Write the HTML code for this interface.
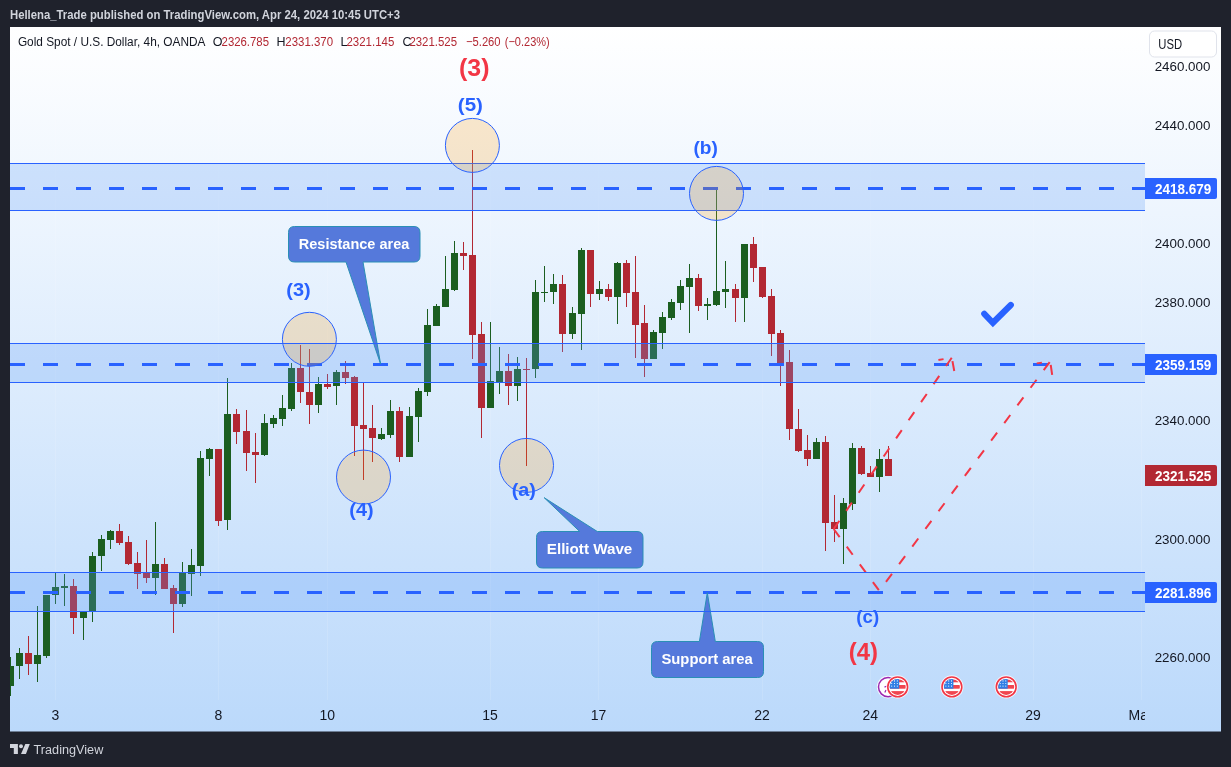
<!DOCTYPE html><html><head><meta charset="utf-8"><style>html,body{margin:0;padding:0;background:#1f222c;overflow:hidden}svg{display:block;will-change:transform}text{font-family:"Liberation Sans",sans-serif}</style></head><body>
<svg width="1231" height="767" viewBox="0 0 1231 767">
<defs><linearGradient id="bg" x1="0" y1="0" x2="0" y2="1"><stop offset="0" stop-color="#ffffff"/><stop offset="1" stop-color="#bbd9fb"/></linearGradient>
<clipPath id="pane"><rect x="10" y="27" width="1135" height="673"/></clipPath>
<clipPath id="panel"><rect x="10" y="27" width="1211" height="704"/></clipPath>
</defs>
<rect x="0" y="0" width="1231" height="767" fill="#1f222c"/>
<text x="10" y="19" font-size="12" fill="#d1d4dc" font-weight="bold" text-anchor="start" textLength="390" lengthAdjust="spacingAndGlyphs" >Hellena_Trade published on TradingView.com, Apr 24, 2024 10:45 UTC+3</text>
<rect x="10" y="27" width="1211" height="704.5" fill="url(#bg)"/>
<g clip-path="url(#pane)">
<rect x="55" y="27" width="1" height="673" fill="#ffffff" opacity="0.12"/>
<rect x="218" y="27" width="1" height="673" fill="#ffffff" opacity="0.12"/>
<rect x="327" y="27" width="1" height="673" fill="#ffffff" opacity="0.12"/>
<rect x="490" y="27" width="1" height="673" fill="#ffffff" opacity="0.12"/>
<rect x="598" y="27" width="1" height="673" fill="#ffffff" opacity="0.12"/>
<rect x="762" y="27" width="1" height="673" fill="#ffffff" opacity="0.12"/>
<rect x="870" y="27" width="1" height="673" fill="#ffffff" opacity="0.12"/>
<rect x="1033" y="27" width="1" height="673" fill="#ffffff" opacity="0.12"/>
<rect x="1141" y="27" width="1" height="673" fill="#ffffff" opacity="0.12"/>
<rect x="10" y="657" width="1" height="39" fill="#1b5e20"/>
<rect x="7" y="666" width="7" height="20" fill="#1b5e20"/>
<rect x="19" y="648" width="1" height="31" fill="#1b5e20"/>
<rect x="16" y="653" width="7" height="13" fill="#1b5e20"/>
<rect x="28" y="636" width="1" height="39" fill="#b22833"/>
<rect x="25" y="653" width="7" height="11" fill="#b22833"/>
<rect x="37" y="606" width="1" height="76" fill="#1b5e20"/>
<rect x="34" y="655" width="7" height="9" fill="#1b5e20"/>
<rect x="46" y="595" width="1" height="63" fill="#1b5e20"/>
<rect x="43" y="595" width="7" height="61" fill="#1b5e20"/>
<rect x="55" y="573" width="1" height="31" fill="#1b5e20"/>
<rect x="52" y="587" width="7" height="8" fill="#1b5e20"/>
<rect x="64" y="574" width="1" height="32" fill="#1b5e20"/>
<rect x="61" y="586" width="7" height="2" fill="#1b5e20"/>
<rect x="73" y="579" width="1" height="55" fill="#b22833"/>
<rect x="70" y="586" width="7" height="32" fill="#b22833"/>
<rect x="83" y="612" width="1" height="28" fill="#1b5e20"/>
<rect x="80" y="612" width="7" height="6" fill="#1b5e20"/>
<rect x="92" y="552" width="1" height="70" fill="#1b5e20"/>
<rect x="89" y="556" width="7" height="56" fill="#1b5e20"/>
<rect x="101" y="535" width="1" height="36" fill="#1b5e20"/>
<rect x="98" y="539" width="7" height="17" fill="#1b5e20"/>
<rect x="110" y="530" width="1" height="19" fill="#1b5e20"/>
<rect x="107" y="531" width="7" height="9" fill="#1b5e20"/>
<rect x="119" y="524" width="1" height="21" fill="#b22833"/>
<rect x="116" y="531" width="7" height="12" fill="#b22833"/>
<rect x="128" y="536" width="1" height="29" fill="#b22833"/>
<rect x="125" y="542" width="7" height="22" fill="#b22833"/>
<rect x="137" y="552" width="1" height="37" fill="#b22833"/>
<rect x="134" y="563" width="7" height="11" fill="#b22833"/>
<rect x="146" y="540" width="1" height="43" fill="#b22833"/>
<rect x="143" y="573" width="7" height="5" fill="#b22833"/>
<rect x="155" y="522" width="1" height="73" fill="#1b5e20"/>
<rect x="152" y="564" width="7" height="14" fill="#1b5e20"/>
<rect x="164" y="558" width="1" height="31" fill="#b22833"/>
<rect x="161" y="564" width="7" height="25" fill="#b22833"/>
<rect x="173" y="585" width="1" height="48" fill="#b22833"/>
<rect x="170" y="588" width="7" height="16" fill="#b22833"/>
<rect x="182" y="562" width="1" height="45" fill="#1b5e20"/>
<rect x="179" y="573" width="7" height="31" fill="#1b5e20"/>
<rect x="191" y="549" width="1" height="47" fill="#1b5e20"/>
<rect x="188" y="565" width="7" height="9" fill="#1b5e20"/>
<rect x="200" y="451" width="1" height="125" fill="#1b5e20"/>
<rect x="197" y="458" width="7" height="108" fill="#1b5e20"/>
<rect x="209" y="448" width="1" height="28" fill="#1b5e20"/>
<rect x="206" y="449" width="7" height="10" fill="#1b5e20"/>
<rect x="218" y="449" width="1" height="77" fill="#b22833"/>
<rect x="215" y="449" width="7" height="72" fill="#b22833"/>
<rect x="227" y="378" width="1" height="152" fill="#1b5e20"/>
<rect x="224" y="414" width="7" height="106" fill="#1b5e20"/>
<rect x="236" y="409" width="1" height="35" fill="#b22833"/>
<rect x="233" y="414" width="7" height="18" fill="#b22833"/>
<rect x="246" y="410" width="1" height="61" fill="#b22833"/>
<rect x="243" y="431" width="7" height="22" fill="#b22833"/>
<rect x="255" y="433" width="1" height="50" fill="#b22833"/>
<rect x="252" y="452" width="7" height="3" fill="#b22833"/>
<rect x="264" y="414" width="1" height="42" fill="#1b5e20"/>
<rect x="261" y="423" width="7" height="32" fill="#1b5e20"/>
<rect x="273" y="415" width="1" height="13" fill="#1b5e20"/>
<rect x="270" y="418" width="7" height="6" fill="#1b5e20"/>
<rect x="282" y="395" width="1" height="31" fill="#1b5e20"/>
<rect x="279" y="408" width="7" height="11" fill="#1b5e20"/>
<rect x="291" y="363" width="1" height="48" fill="#1b5e20"/>
<rect x="288" y="368" width="7" height="41" fill="#1b5e20"/>
<rect x="300" y="345" width="1" height="58" fill="#b22833"/>
<rect x="297" y="368" width="7" height="24" fill="#b22833"/>
<rect x="309" y="349" width="1" height="75" fill="#b22833"/>
<rect x="306" y="392" width="7" height="13" fill="#b22833"/>
<rect x="318" y="377" width="1" height="36" fill="#1b5e20"/>
<rect x="315" y="384" width="7" height="21" fill="#1b5e20"/>
<rect x="327" y="374" width="1" height="15" fill="#b22833"/>
<rect x="324" y="384" width="7" height="3" fill="#b22833"/>
<rect x="336" y="370" width="1" height="35" fill="#1b5e20"/>
<rect x="333" y="372" width="7" height="14" fill="#1b5e20"/>
<rect x="345" y="361" width="1" height="23" fill="#b22833"/>
<rect x="342" y="372" width="7" height="6" fill="#b22833"/>
<rect x="354" y="376" width="1" height="80" fill="#b22833"/>
<rect x="351" y="377" width="7" height="49" fill="#b22833"/>
<rect x="363" y="382" width="1" height="98" fill="#b22833"/>
<rect x="360" y="425" width="7" height="4" fill="#b22833"/>
<rect x="372" y="405" width="1" height="57" fill="#b22833"/>
<rect x="369" y="428" width="7" height="10" fill="#b22833"/>
<rect x="381" y="428" width="1" height="12" fill="#1b5e20"/>
<rect x="378" y="434" width="7" height="5" fill="#1b5e20"/>
<rect x="390" y="400" width="1" height="38" fill="#1b5e20"/>
<rect x="387" y="411" width="7" height="24" fill="#1b5e20"/>
<rect x="399" y="407" width="1" height="55" fill="#b22833"/>
<rect x="396" y="411" width="7" height="46" fill="#b22833"/>
<rect x="409" y="407" width="1" height="50" fill="#1b5e20"/>
<rect x="406" y="416" width="7" height="41" fill="#1b5e20"/>
<rect x="418" y="388" width="1" height="54" fill="#1b5e20"/>
<rect x="415" y="391" width="7" height="26" fill="#1b5e20"/>
<rect x="427" y="309" width="1" height="87" fill="#1b5e20"/>
<rect x="424" y="325" width="7" height="67" fill="#1b5e20"/>
<rect x="436" y="304" width="1" height="22" fill="#1b5e20"/>
<rect x="433" y="306" width="7" height="20" fill="#1b5e20"/>
<rect x="445" y="256" width="1" height="51" fill="#1b5e20"/>
<rect x="442" y="289" width="7" height="18" fill="#1b5e20"/>
<rect x="454" y="241" width="1" height="50" fill="#1b5e20"/>
<rect x="451" y="253" width="7" height="37" fill="#1b5e20"/>
<rect x="463" y="242" width="1" height="28" fill="#b22833"/>
<rect x="460" y="253" width="7" height="3" fill="#b22833"/>
<rect x="472" y="150" width="1" height="209" fill="#b22833"/>
<rect x="469" y="255" width="7" height="80" fill="#b22833"/>
<rect x="481" y="322" width="1" height="116" fill="#b22833"/>
<rect x="478" y="334" width="7" height="74" fill="#b22833"/>
<rect x="490" y="322" width="1" height="86" fill="#1b5e20"/>
<rect x="487" y="381" width="7" height="27" fill="#1b5e20"/>
<rect x="499" y="347" width="1" height="47" fill="#1b5e20"/>
<rect x="496" y="371" width="7" height="11" fill="#1b5e20"/>
<rect x="508" y="354" width="1" height="51" fill="#b22833"/>
<rect x="505" y="371" width="7" height="15" fill="#b22833"/>
<rect x="517" y="357" width="1" height="44" fill="#1b5e20"/>
<rect x="514" y="369" width="7" height="17" fill="#1b5e20"/>
<rect x="526" y="358" width="1" height="108" fill="#b22833"/>
<rect x="523" y="369" width="7" height="1" fill="#b22833"/>
<rect x="535" y="280" width="1" height="98" fill="#1b5e20"/>
<rect x="532" y="292" width="7" height="77" fill="#1b5e20"/>
<rect x="544" y="266" width="1" height="36" fill="#1b5e20"/>
<rect x="541" y="292" width="7" height="1" fill="#1b5e20"/>
<rect x="553" y="274" width="1" height="30" fill="#1b5e20"/>
<rect x="550" y="284" width="7" height="8" fill="#1b5e20"/>
<rect x="562" y="275" width="1" height="77" fill="#b22833"/>
<rect x="559" y="284" width="7" height="50" fill="#b22833"/>
<rect x="572" y="307" width="1" height="32" fill="#1b5e20"/>
<rect x="569" y="313" width="7" height="21" fill="#1b5e20"/>
<rect x="581" y="248" width="1" height="102" fill="#1b5e20"/>
<rect x="578" y="250" width="7" height="64" fill="#1b5e20"/>
<rect x="590" y="250" width="1" height="57" fill="#b22833"/>
<rect x="587" y="250" width="7" height="44" fill="#b22833"/>
<rect x="599" y="281" width="1" height="19" fill="#1b5e20"/>
<rect x="596" y="289" width="7" height="5" fill="#1b5e20"/>
<rect x="608" y="284" width="1" height="17" fill="#b22833"/>
<rect x="605" y="289" width="7" height="8" fill="#b22833"/>
<rect x="617" y="262" width="1" height="62" fill="#1b5e20"/>
<rect x="614" y="263" width="7" height="34" fill="#1b5e20"/>
<rect x="626" y="260" width="1" height="47" fill="#b22833"/>
<rect x="623" y="263" width="7" height="30" fill="#b22833"/>
<rect x="635" y="256" width="1" height="102" fill="#b22833"/>
<rect x="632" y="292" width="7" height="33" fill="#b22833"/>
<rect x="644" y="305" width="1" height="72" fill="#b22833"/>
<rect x="641" y="323" width="7" height="36" fill="#b22833"/>
<rect x="653" y="330" width="1" height="29" fill="#1b5e20"/>
<rect x="650" y="332" width="7" height="27" fill="#1b5e20"/>
<rect x="662" y="312" width="1" height="37" fill="#1b5e20"/>
<rect x="659" y="317" width="7" height="16" fill="#1b5e20"/>
<rect x="671" y="299" width="1" height="21" fill="#1b5e20"/>
<rect x="668" y="302" width="7" height="16" fill="#1b5e20"/>
<rect x="680" y="280" width="1" height="30" fill="#1b5e20"/>
<rect x="677" y="286" width="7" height="17" fill="#1b5e20"/>
<rect x="689" y="264" width="1" height="69" fill="#1b5e20"/>
<rect x="686" y="278" width="7" height="9" fill="#1b5e20"/>
<rect x="698" y="274" width="1" height="37" fill="#b22833"/>
<rect x="695" y="278" width="7" height="28" fill="#b22833"/>
<rect x="707" y="298" width="1" height="22" fill="#1b5e20"/>
<rect x="704" y="304" width="7" height="2" fill="#1b5e20"/>
<rect x="716" y="188" width="1" height="118" fill="#1b5e20"/>
<rect x="713" y="291" width="7" height="14" fill="#1b5e20"/>
<rect x="725" y="261" width="1" height="47" fill="#1b5e20"/>
<rect x="722" y="289" width="7" height="3" fill="#1b5e20"/>
<rect x="735" y="284" width="1" height="38" fill="#b22833"/>
<rect x="732" y="289" width="7" height="9" fill="#b22833"/>
<rect x="744" y="244" width="1" height="78" fill="#1b5e20"/>
<rect x="741" y="244" width="7" height="54" fill="#1b5e20"/>
<rect x="753" y="237" width="1" height="45" fill="#b22833"/>
<rect x="750" y="244" width="7" height="24" fill="#b22833"/>
<rect x="762" y="267" width="1" height="31" fill="#b22833"/>
<rect x="759" y="267" width="7" height="30" fill="#b22833"/>
<rect x="771" y="289" width="1" height="67" fill="#b22833"/>
<rect x="768" y="296" width="7" height="38" fill="#b22833"/>
<rect x="780" y="330" width="1" height="56" fill="#b22833"/>
<rect x="777" y="333" width="7" height="30" fill="#b22833"/>
<rect x="789" y="350" width="1" height="90" fill="#b22833"/>
<rect x="786" y="362" width="7" height="67" fill="#b22833"/>
<rect x="798" y="409" width="1" height="43" fill="#b22833"/>
<rect x="795" y="429" width="7" height="22" fill="#b22833"/>
<rect x="807" y="435" width="1" height="31" fill="#b22833"/>
<rect x="804" y="450" width="7" height="9" fill="#b22833"/>
<rect x="816" y="438" width="1" height="21" fill="#1b5e20"/>
<rect x="813" y="442" width="7" height="17" fill="#1b5e20"/>
<rect x="825" y="436" width="1" height="115" fill="#b22833"/>
<rect x="822" y="442" width="7" height="81" fill="#b22833"/>
<rect x="834" y="495" width="1" height="47" fill="#b22833"/>
<rect x="831" y="522" width="7" height="7" fill="#b22833"/>
<rect x="843" y="498" width="1" height="66" fill="#1b5e20"/>
<rect x="840" y="503" width="7" height="26" fill="#1b5e20"/>
<rect x="852" y="443" width="1" height="67" fill="#1b5e20"/>
<rect x="849" y="448" width="7" height="56" fill="#1b5e20"/>
<rect x="861" y="446" width="1" height="29" fill="#b22833"/>
<rect x="858" y="448" width="7" height="26" fill="#b22833"/>
<rect x="870" y="466" width="1" height="11" fill="#b22833"/>
<rect x="867" y="473" width="7" height="4" fill="#b22833"/>
<rect x="879" y="449" width="1" height="43" fill="#1b5e20"/>
<rect x="876" y="459" width="7" height="18" fill="#1b5e20"/>
<rect x="888" y="446" width="1" height="30" fill="#b22833"/>
<rect x="885" y="459" width="7" height="17" fill="#b22833"/>
<rect x="10" y="163.5" width="1135" height="47.0" fill="rgba(91,156,246,0.25)"/>
<line x1="10" y1="163.5" x2="1145" y2="163.5" stroke="#2962ff" stroke-width="1"/><line x1="10" y1="210.5" x2="1145" y2="210.5" stroke="#2962ff" stroke-width="1"/>
<rect x="10" y="343.5" width="1135" height="39.0" fill="rgba(91,156,246,0.25)"/>
<line x1="10" y1="343.5" x2="1145" y2="343.5" stroke="#2962ff" stroke-width="1"/><line x1="10" y1="382.5" x2="1145" y2="382.5" stroke="#2962ff" stroke-width="1"/>
<rect x="10" y="572.5" width="1135" height="39.0" fill="rgba(91,156,246,0.25)"/>
<line x1="10" y1="572.5" x2="1145" y2="572.5" stroke="#2962ff" stroke-width="1"/><line x1="10" y1="611.5" x2="1145" y2="611.5" stroke="#2962ff" stroke-width="1"/>
<line x1="10" y1="188.5" x2="1145" y2="188.5" stroke="#2962ff" stroke-width="3" stroke-dasharray="15 18"/>
<line x1="10" y1="364.5" x2="1145" y2="364.5" stroke="#2962ff" stroke-width="3" stroke-dasharray="15 18"/>
<line x1="10" y1="592.5" x2="1145" y2="592.5" stroke="#2962ff" stroke-width="3" stroke-dasharray="15 18"/>
<circle cx="309.4" cy="339.3" r="27" fill="rgba(255,152,0,0.2)" stroke="#2962ff" stroke-width="1"/>
<circle cx="472.4" cy="145.4" r="27" fill="rgba(255,152,0,0.2)" stroke="#2962ff" stroke-width="1"/>
<circle cx="716.5" cy="193.4" r="27" fill="rgba(255,152,0,0.2)" stroke="#2962ff" stroke-width="1"/>
<circle cx="363.5" cy="477.1" r="27" fill="rgba(255,152,0,0.2)" stroke="#2962ff" stroke-width="1"/>
<circle cx="526.5" cy="465.4" r="27" fill="rgba(255,152,0,0.2)" stroke="#2962ff" stroke-width="1"/>
<line x1="833.7" y1="529" x2="951.8" y2="357.6" stroke="#f23645" stroke-width="2" stroke-dasharray="10 12"/>
<polyline points="954.26,370.98 951.8,357.6 938.42,360.06" fill="none" stroke="#f23645" stroke-width="2" stroke-dasharray="10 12"/>
<polyline points="833.7,529 879.3,590.8 1050.2,361.4" fill="none" stroke="#f23645" stroke-width="2" stroke-dasharray="10 12"/>
<polyline points="1052.17,374.86 1050.2,361.4 1036.74,363.37" fill="none" stroke="#f23645" stroke-width="2" stroke-dasharray="10 12"/>
<path d="M294.5,226.5 H414.0 Q420.0,226.5 420.0,232.5 V256.0 Q420.0,262.0 414.0,262.0 H363 L380.6,364 L346,262.0 H294.5 Q288.5,262.0 288.5,256.0 V232.5 Q288.5,226.5 294.5,226.5 Z" fill="#5579db" stroke="#2a8fb5" stroke-width="1" stroke-linejoin="miter"/>
<text x="298.8" y="249.2" font-size="15.5" fill="#ffffff" font-weight="bold" text-anchor="start" textLength="110.5" lengthAdjust="spacingAndGlyphs" >Resistance area</text>
<path d="M542.5,531.5 H579.7 L544.2,497.7 L597.3,531.5 H637.0 Q643.0,531.5 643.0,537.5 V562.0 Q643.0,568.0 637.0,568.0 H542.5 Q536.5,568.0 536.5,562.0 V537.5 Q536.5,531.5 542.5,531.5 Z" fill="#5579db" stroke="#2a8fb5" stroke-width="1" stroke-linejoin="miter"/>
<text x="546.8" y="553.9" font-size="15.5" fill="#ffffff" font-weight="bold" text-anchor="start" textLength="85.5" lengthAdjust="spacingAndGlyphs" >Elliott Wave</text>
<path d="M657.5,641.5 H699.4 L707.3,592.7 L715.3,641.5 H757.5 Q763.5,641.5 763.5,647.5 V671.5 Q763.5,677.5 757.5,677.5 H657.5 Q651.5,677.5 651.5,671.5 V647.5 Q651.5,641.5 657.5,641.5 Z" fill="#5579db" stroke="#2a8fb5" stroke-width="1" stroke-linejoin="miter"/>
<text x="661.4" y="664.4" font-size="15.5" fill="#ffffff" font-weight="bold" text-anchor="start" textLength="91.4" lengthAdjust="spacingAndGlyphs" >Support area</text>
<line x1="10" y1="343.5" x2="1145" y2="343.5" stroke="#2962ff" stroke-width="1"/><line x1="10" y1="382.5" x2="1145" y2="382.5" stroke="#2962ff" stroke-width="1"/>
<line x1="10" y1="572.5" x2="1145" y2="572.5" stroke="#2962ff" stroke-width="1"/><line x1="10" y1="611.5" x2="1145" y2="611.5" stroke="#2962ff" stroke-width="1"/>
<text x="286.3" y="295.7" font-size="18" fill="#2962ff" font-weight="bold" text-anchor="start" textLength="24.4" lengthAdjust="spacingAndGlyphs" >(3)</text>
<text x="457.8" y="111" font-size="18" fill="#2962ff" font-weight="bold" text-anchor="start" textLength="25.1" lengthAdjust="spacingAndGlyphs" >(5)</text>
<text x="693.5" y="154.2" font-size="18" fill="#2962ff" font-weight="bold" text-anchor="start" textLength="24.4" lengthAdjust="spacingAndGlyphs" >(b)</text>
<text x="349.3" y="515.5" font-size="18" fill="#2962ff" font-weight="bold" text-anchor="start" textLength="24.2" lengthAdjust="spacingAndGlyphs" >(4)</text>
<text x="511.7" y="495.8" font-size="18" fill="#2962ff" font-weight="bold" text-anchor="start" textLength="24.2" lengthAdjust="spacingAndGlyphs" >(a)</text>
<text x="856.3" y="623.2" font-size="18" fill="#2962ff" font-weight="bold" text-anchor="start" textLength="22.8" lengthAdjust="spacingAndGlyphs" >(c)</text>
<text x="459" y="75.9" font-size="23" fill="#f23645" font-weight="bold" text-anchor="start" textLength="30.5" lengthAdjust="spacingAndGlyphs" >(3)</text>
<text x="848.8" y="659.9" font-size="23" fill="#f23645" font-weight="bold" text-anchor="start" textLength="29.2" lengthAdjust="spacingAndGlyphs" >(4)</text>
<polyline points="984.3,313.8 992.9,322.8 1010.8,305" fill="none" stroke="#2962ff" stroke-width="6.2" stroke-linecap="round" stroke-linejoin="miter"/>
</g>
<circle cx="888.1" cy="687.1" r="11.3" fill="#ffffff" opacity="0.8"/><circle cx="888.1" cy="687.1" r="9.6" fill="#ffffff" stroke="#9c27b0" stroke-width="1.5"/>
<path d="M884.5,687.1 L887,686 M886,690 L884.8,692.5" stroke="#9c27b0" stroke-width="1.2"/>
<g><circle cx="897.7" cy="686.9" r="11.6" fill="#ffffff" opacity="0.8"/><circle cx="897.7" cy="686.9" r="9.9" fill="#ffffff" stroke="#f23645" stroke-width="1.6"/><clipPath id="fc897"><circle cx="897.7" cy="686.9" r="8"/></clipPath><g clip-path="url(#fc897)"><rect x="888.7" y="677.9" width="18" height="18" fill="#ffffff"/><rect x="888.7" y="679.5" width="18" height="2.8" fill="#f0454f"/><rect x="888.7" y="685.0" width="18" height="3.7" fill="#f0454f"/><rect x="888.7" y="691.1" width="18" height="6" fill="#f0454f"/><rect x="888.7" y="677.9" width="10.5" height="10.8" fill="#2f7fe6"/><circle cx="891.70" cy="680.90" r="0.55" fill="#ffffff"/><circle cx="891.70" cy="683.50" r="0.55" fill="#ffffff"/><circle cx="891.70" cy="686.10" r="0.55" fill="#ffffff"/><circle cx="894.50" cy="680.90" r="0.55" fill="#ffffff"/><circle cx="894.50" cy="683.50" r="0.55" fill="#ffffff"/><circle cx="894.50" cy="686.10" r="0.55" fill="#ffffff"/><circle cx="897.30" cy="680.90" r="0.55" fill="#ffffff"/><circle cx="897.30" cy="683.50" r="0.55" fill="#ffffff"/><circle cx="897.30" cy="686.10" r="0.55" fill="#ffffff"/></g></g>
<g><circle cx="951.9" cy="686.9" r="11.6" fill="#ffffff" opacity="0.8"/><circle cx="951.9" cy="686.9" r="9.9" fill="#ffffff" stroke="#f23645" stroke-width="1.6"/><clipPath id="fc951"><circle cx="951.9" cy="686.9" r="8"/></clipPath><g clip-path="url(#fc951)"><rect x="942.9" y="677.9" width="18" height="18" fill="#ffffff"/><rect x="942.9" y="679.5" width="18" height="2.8" fill="#f0454f"/><rect x="942.9" y="685.0" width="18" height="3.7" fill="#f0454f"/><rect x="942.9" y="691.1" width="18" height="6" fill="#f0454f"/><rect x="942.9" y="677.9" width="10.5" height="10.8" fill="#2f7fe6"/><circle cx="945.90" cy="680.90" r="0.55" fill="#ffffff"/><circle cx="945.90" cy="683.50" r="0.55" fill="#ffffff"/><circle cx="945.90" cy="686.10" r="0.55" fill="#ffffff"/><circle cx="948.70" cy="680.90" r="0.55" fill="#ffffff"/><circle cx="948.70" cy="683.50" r="0.55" fill="#ffffff"/><circle cx="948.70" cy="686.10" r="0.55" fill="#ffffff"/><circle cx="951.50" cy="680.90" r="0.55" fill="#ffffff"/><circle cx="951.50" cy="683.50" r="0.55" fill="#ffffff"/><circle cx="951.50" cy="686.10" r="0.55" fill="#ffffff"/></g></g>
<g><circle cx="1006.2" cy="686.9" r="11.6" fill="#ffffff" opacity="0.8"/><circle cx="1006.2" cy="686.9" r="9.9" fill="#ffffff" stroke="#f23645" stroke-width="1.6"/><clipPath id="fc1006"><circle cx="1006.2" cy="686.9" r="8"/></clipPath><g clip-path="url(#fc1006)"><rect x="997.2" y="677.9" width="18" height="18" fill="#ffffff"/><rect x="997.2" y="679.5" width="18" height="2.8" fill="#f0454f"/><rect x="997.2" y="685.0" width="18" height="3.7" fill="#f0454f"/><rect x="997.2" y="691.1" width="18" height="6" fill="#f0454f"/><rect x="997.2" y="677.9" width="10.5" height="10.8" fill="#2f7fe6"/><circle cx="1000.20" cy="680.90" r="0.55" fill="#ffffff"/><circle cx="1000.20" cy="683.50" r="0.55" fill="#ffffff"/><circle cx="1000.20" cy="686.10" r="0.55" fill="#ffffff"/><circle cx="1003.00" cy="680.90" r="0.55" fill="#ffffff"/><circle cx="1003.00" cy="683.50" r="0.55" fill="#ffffff"/><circle cx="1003.00" cy="686.10" r="0.55" fill="#ffffff"/><circle cx="1005.80" cy="680.90" r="0.55" fill="#ffffff"/><circle cx="1005.80" cy="683.50" r="0.55" fill="#ffffff"/><circle cx="1005.80" cy="686.10" r="0.55" fill="#ffffff"/></g></g>
<text x="1210.4" y="70.5" font-size="13.5" fill="#131722" font-weight="normal" text-anchor="end" textLength="55.7" lengthAdjust="spacingAndGlyphs" >2460.000</text>
<text x="1210.4" y="129.6" font-size="13.5" fill="#131722" font-weight="normal" text-anchor="end" textLength="55.7" lengthAdjust="spacingAndGlyphs" >2440.000</text>
<text x="1210.4" y="247.9" font-size="13.5" fill="#131722" font-weight="normal" text-anchor="end" textLength="55.7" lengthAdjust="spacingAndGlyphs" >2400.000</text>
<text x="1210.4" y="307.0" font-size="13.5" fill="#131722" font-weight="normal" text-anchor="end" textLength="55.7" lengthAdjust="spacingAndGlyphs" >2380.000</text>
<text x="1210.4" y="425.2" font-size="13.5" fill="#131722" font-weight="normal" text-anchor="end" textLength="55.7" lengthAdjust="spacingAndGlyphs" >2340.000</text>
<text x="1210.4" y="543.5" font-size="13.5" fill="#131722" font-weight="normal" text-anchor="end" textLength="55.7" lengthAdjust="spacingAndGlyphs" >2300.000</text>
<text x="1210.4" y="661.7" font-size="13.5" fill="#131722" font-weight="normal" text-anchor="end" textLength="55.7" lengthAdjust="spacingAndGlyphs" >2260.000</text>
<text x="55.4" y="720.2" font-size="14" fill="#131722" font-weight="normal" text-anchor="middle" >3</text>
<text x="218.5" y="720.2" font-size="14" fill="#131722" font-weight="normal" text-anchor="middle" >8</text>
<text x="327.3" y="720.2" font-size="14" fill="#131722" font-weight="normal" text-anchor="middle" >10</text>
<text x="490" y="720.2" font-size="14" fill="#131722" font-weight="normal" text-anchor="middle" >15</text>
<text x="598.6" y="720.2" font-size="14" fill="#131722" font-weight="normal" text-anchor="middle" >17</text>
<text x="762" y="720.2" font-size="14" fill="#131722" font-weight="normal" text-anchor="middle" >22</text>
<text x="870.3" y="720.2" font-size="14" fill="#131722" font-weight="normal" text-anchor="middle" >24</text>
<text x="1033" y="720.2" font-size="14" fill="#131722" font-weight="normal" text-anchor="middle" >29</text>
<clipPath id="tclip"><rect x="10" y="700" width="1135" height="31"/></clipPath>
<text x="1141.7" y="720.2" font-size="14" fill="#131722" font-weight="normal" text-anchor="middle" clip-path="url(#tclip)">May</text>
<path d="M1145,177.9 H1215 Q1217,177.9 1217,179.9 V196.9 Q1217,198.9 1215,198.9 H1145 Z" fill="#2962ff"/>
<text x="1211.3" y="194.0" font-size="14" fill="#ffffff" font-weight="bold" text-anchor="end" textLength="56.3" lengthAdjust="spacingAndGlyphs" >2418.679</text>
<path d="M1145,354.0 H1215 Q1217,354.0 1217,356.0 V373.0 Q1217,375.0 1215,375.0 H1145 Z" fill="#2962ff"/>
<text x="1211.3" y="370.1" font-size="14" fill="#ffffff" font-weight="bold" text-anchor="end" textLength="56.3" lengthAdjust="spacingAndGlyphs" >2359.159</text>
<path d="M1145,465.0 H1215 Q1217,465.0 1217,467.0 V484.0 Q1217,486.0 1215,486.0 H1145 Z" fill="#b22833"/>
<text x="1211.3" y="481.1" font-size="14" fill="#ffffff" font-weight="bold" text-anchor="end" textLength="56.3" lengthAdjust="spacingAndGlyphs" >2321.525</text>
<path d="M1145,582.0 H1215 Q1217,582.0 1217,584.0 V601.0 Q1217,603.0 1215,603.0 H1145 Z" fill="#2962ff"/>
<text x="1211.3" y="598.1" font-size="14" fill="#ffffff" font-weight="bold" text-anchor="end" textLength="56.3" lengthAdjust="spacingAndGlyphs" >2281.896</text>
<rect x="1149.5" y="31" width="67" height="26" rx="5" fill="#ffffff" stroke="#e0e3eb" stroke-width="1"/>
<text x="1158.3" y="49" font-size="14" fill="#131722" font-weight="normal" text-anchor="start" textLength="23.8" lengthAdjust="spacingAndGlyphs" >USD</text>
<text x="17.9" y="46" font-size="12.5" fill="#131722" font-weight="normal" text-anchor="start" textLength="187.5" lengthAdjust="spacingAndGlyphs" >Gold Spot / U.S. Dollar, 4h, OANDA</text>
<text x="212.8" y="46" font-size="12.5" fill="#131722" font-weight="normal" text-anchor="start" >O</text>
<text x="221.6" y="46" font-size="12.5" fill="#b22833" font-weight="normal" text-anchor="start" textLength="47.4" lengthAdjust="spacingAndGlyphs" >2326.785</text>
<text x="276.6" y="46" font-size="12.5" fill="#131722" font-weight="normal" text-anchor="start" >H</text>
<text x="285.3" y="46" font-size="12.5" fill="#b22833" font-weight="normal" text-anchor="start" textLength="47.7" lengthAdjust="spacingAndGlyphs" >2331.370</text>
<text x="340.6" y="46" font-size="12.5" fill="#131722" font-weight="normal" text-anchor="start" >L</text>
<text x="346.5" y="46" font-size="12.5" fill="#b22833" font-weight="normal" text-anchor="start" textLength="47.8" lengthAdjust="spacingAndGlyphs" >2321.145</text>
<text x="402.4" y="46" font-size="12.5" fill="#131722" font-weight="normal" text-anchor="start" >C</text>
<text x="409.4" y="46" font-size="12.5" fill="#b22833" font-weight="normal" text-anchor="start" textLength="47.6" lengthAdjust="spacingAndGlyphs" >2321.525</text>
<text x="466" y="46" font-size="12.5" fill="#b22833" font-weight="normal" text-anchor="start" textLength="34.6" lengthAdjust="spacingAndGlyphs" >−5.260</text>
<text x="504.8" y="46" font-size="12.5" fill="#b22833" font-weight="normal" text-anchor="start" textLength="44.9" lengthAdjust="spacingAndGlyphs" >(−0.23%)</text>
<g fill="#d1d4dc"><path d="M10,744 H17.9 V754 H13.8 V747.9 H10 Z"/><circle cx="21" cy="746.2" r="1.95"/><path d="M25.3,744 H29.8 L25.9,754 H21 Z"/></g>
<text x="33.6" y="753.9" font-size="12.5" fill="#d1d4dc" font-weight="normal" text-anchor="start" textLength="69.7" lengthAdjust="spacingAndGlyphs" >TradingView</text>
</svg></body></html>
